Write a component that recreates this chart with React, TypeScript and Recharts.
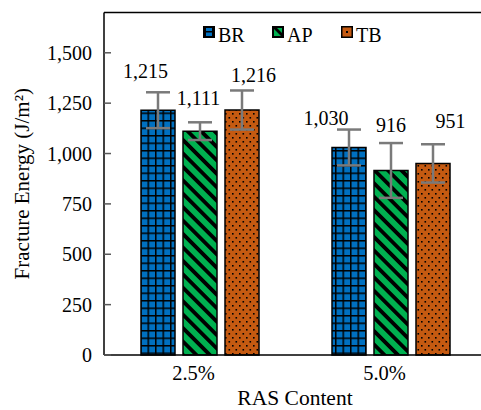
import React from 'react';
import { BarChart, Bar, XAxis, YAxis, ErrorBar, LabelList, Legend, ReferenceLine, Label } from 'recharts';

const categories = ['2.5%', '5.0%'];
const seriesNames = ['BR', 'AP', 'TB'];
const brValues = [1215, 1030];
const apValues = [1111, 916];
const tbValues = [1216, 951];
const brErrors = [89, 89];
const apErrors = [44, 136];
const tbErrors = [97, 95];
const yTicks = [0, 250, 500, 750, 1000, 1250, 1500];
const yMax = 1700;

const FONT = 'Liberation Serif, Times New Roman, Times, DejaVu Serif, serif';

const data = categories.map((c, i) => ({
  cat: c,
  BR: brValues[i],
  AP: apValues[i],
  TB: tbValues[i],
  BRerr: brErrors[i],
  APerr: apErrors[i],
  TBerr: tbErrors[i],
}));

// label placement offsets (dx, dy from bar top-center), per series per category
const LABEL_OFFSETS: Record<string, number[][]> = {
  BR: [[-12.5, -32], [-23, -22.5]],
  AP: [[-1.5, -26], [0, -38.5]],
  TB: [[11.5, -28], [17.5, -35.5]],
};

const fmt = (v: number) => v.toLocaleString('en-US');

const makeLabel = (key: string) => (props: any) => {
  const { x, y, width, value, index } = props;
  const [dx, dy] = LABEL_OFFSETS[key][index];
  return (
    <text x={x + width / 2 + dx} y={y + dy} textAnchor="middle" style={{ fontFamily: FONT }} fontSize={20} fill="#000">
      {fmt(value)}
    </text>
  );
};

const YTick = (props: any) => {
  const { x, y, payload } = props;
  return (
    <g>
      <line x1={x + 12} x2={x + 19} y1={y} y2={y} stroke="#595959" strokeWidth={1.5} />
      <text x={x} y={y} dy="0.355em" textAnchor="end" style={{ fontFamily: FONT }} fontSize={20} fill="#000">
        {fmt(payload.value)}
      </text>
    </g>
  );
};

const XTick = (props: any) => {
  const { x, y, payload } = props;
  return (
    <text x={x - 6} y={y} dy="0.71em" textAnchor="middle" style={{ fontFamily: FONT }} fontSize={20.5} fill="#000">
      {payload.value}
    </text>
  );
};

const LegendIcon = ({ name }: { name: string }) => {
  if (name === 'BR') {
    return (
      <svg width={12} height={12} style={{ display: 'block' }}>
        <rect x={0} y={0} width={12} height={12} fill="#000" />
        <rect x={3} y={2} width={6} height={3} fill="#0070C0" />
        <rect x={3} y={6.5} width={6} height={3.5} fill="#0070C0" />
      </svg>
    );
  }
  if (name === 'AP') {
    return (
      <svg width={12} height={12} style={{ display: 'block' }}>
        <rect x={0} y={0} width={12} height={12} fill="#000" />
        <polygon points="2,3 9,10 2,10" fill="#00B050" />
        <polygon points="5,2 10,2 10,7" fill="#00B050" />
      </svg>
    );
  }
  return (
    <svg width={12} height={12} style={{ display: 'block' }}>
      <rect x={0} y={0} width={12} height={12} fill="#000" />
      <rect x={1.5} y={1.5} width={9} height={9} fill="#C55A11" />
      <rect x={5} y={5} width={2} height={2} fill="#000" />
    </svg>
  );
};

const renderLegend = () => (
  <div style={{ display: 'flex', fontFamily: FONT, fontSize: 20, lineHeight: '20px', color: '#000' }}>
    {seriesNames.map((n) => (
      <div key={n} style={{ display: 'flex', alignItems: 'flex-start', width: 69 }}>
        <div style={{ marginTop: 1, marginRight: 3 }}>
          <LegendIcon name={n} />
        </div>
        <span>{n}</span>
      </div>
    ))}
  </div>
);

export default function App() {
  return (
    <div
      style={{
        position: 'fixed',
        top: 0,
        left: 0,
        width: 481,
        height: 410,
        overflow: 'hidden',
        background: '#fff',
        fontFamily: FONT,
      }}
    >
      <BarChart
        width={486}
        height={410}
        data={data}
        margin={{ top: 12.5, right: 0, bottom: 0, left: 0 }}
        barSize={34}
        barGap={8}
        style={{ fontFamily: FONT }}
      >
        <defs>
          <pattern id="patBR" patternUnits="userSpaceOnUse" width={7.5} height={7.5} x={140} y={0}>
            <rect x={0} y={0} width={7.5} height={7.5} fill="#0070C0" />
            <rect x={0} y={0} width={7.5} height={1.5} fill="#000" />
            <rect x={0} y={0} width={1.5} height={7.5} fill="#000" />
          </pattern>
          <pattern id="patAP" patternUnits="userSpaceOnUse" width={9.5} height={9.5} patternTransform="rotate(-45)">
            <rect x={0} y={0} width={9.5} height={9.5} fill="#00B050" />
            <rect x={0} y={0} width={3.8} height={9.5} fill="#000" />
          </pattern>
          <pattern id="patTB" patternUnits="userSpaceOnUse" width={7} height={8}>
            <rect x={0} y={0} width={7} height={8} fill="#C55A11" />
            <rect x={1} y={1} width={1.6} height={1.6} fill="#000" />
            <rect x={4.5} y={5} width={1.6} height={1.6} fill="#000" />
          </pattern>
        </defs>
        <XAxis
          dataKey="cat"
          height={55}
          tickLine={false}
          tickSize={0}
          tickMargin={10}
          axisLine={{ stroke: '#000', strokeWidth: 1.5 }}
          tick={<XTick />}
        >
          <Label
            content={(p: any) => {
              const vb = p.viewBox;
              return (
                <text
                  x={vb.x + vb.width / 2}
                  y={vb.y + vb.height - 5}
                  textAnchor="middle"
                  style={{ fontFamily: FONT }}
                  fontSize={21.5}
                  fill="#000"
                >
                  RAS Content
                </text>
              );
            }}
          />
        </XAxis>
        <YAxis
          width={104}
          domain={[0, yMax]}
          ticks={yTicks}
          interval={0}
          tickLine={false}
          tickSize={0}
          tickMargin={12}
          axisLine={{ stroke: '#000', strokeWidth: 1.5 }}
          tick={<YTick />}
        >
          <Label
            content={(p: any) => {
              const vb = p.viewBox;
              const cy = vb.y + vb.height / 2;
              return (
                <text
                  x={28.5}
                  y={cy}
                  transform={`rotate(-90, 28.5, ${cy})`}
                  textAnchor="middle"
                  style={{ fontFamily: FONT }}
                  fontSize={21}
                  fill="#000"
                >
                  Fracture Energy (J/m²)
                </text>
              );
            }}
          />
        </YAxis>
        <ReferenceLine y={yMax} stroke="#000" strokeWidth={1.5} />
        <Legend
          verticalAlign="middle"
          align="center"
          layout="horizontal"
          wrapperStyle={{ top: 25, left: 203, width: 240 }}
          content={renderLegend}
        />
        <Bar dataKey="BR" fill="url(#patBR)" stroke="#000" strokeWidth={1.5} isAnimationActive={false}>
          <ErrorBar dataKey="BRerr" width={12} stroke="#7a7a7a" strokeWidth={2.5} direction="y" />
          <LabelList dataKey="BR" content={makeLabel('BR')} />
        </Bar>
        <Bar dataKey="AP" fill="url(#patAP)" stroke="#000" strokeWidth={1.5} isAnimationActive={false}>
          <ErrorBar dataKey="APerr" width={12} stroke="#7a7a7a" strokeWidth={2.5} direction="y" />
          <LabelList dataKey="AP" content={makeLabel('AP')} />
        </Bar>
        <Bar dataKey="TB" fill="url(#patTB)" stroke="#000" strokeWidth={1.5} isAnimationActive={false}>
          <ErrorBar dataKey="TBerr" width={12} stroke="#7a7a7a" strokeWidth={2.5} direction="y" />
          <LabelList dataKey="TB" content={makeLabel('TB')} />
        </Bar>
      </BarChart>
    </div>
  );
}
